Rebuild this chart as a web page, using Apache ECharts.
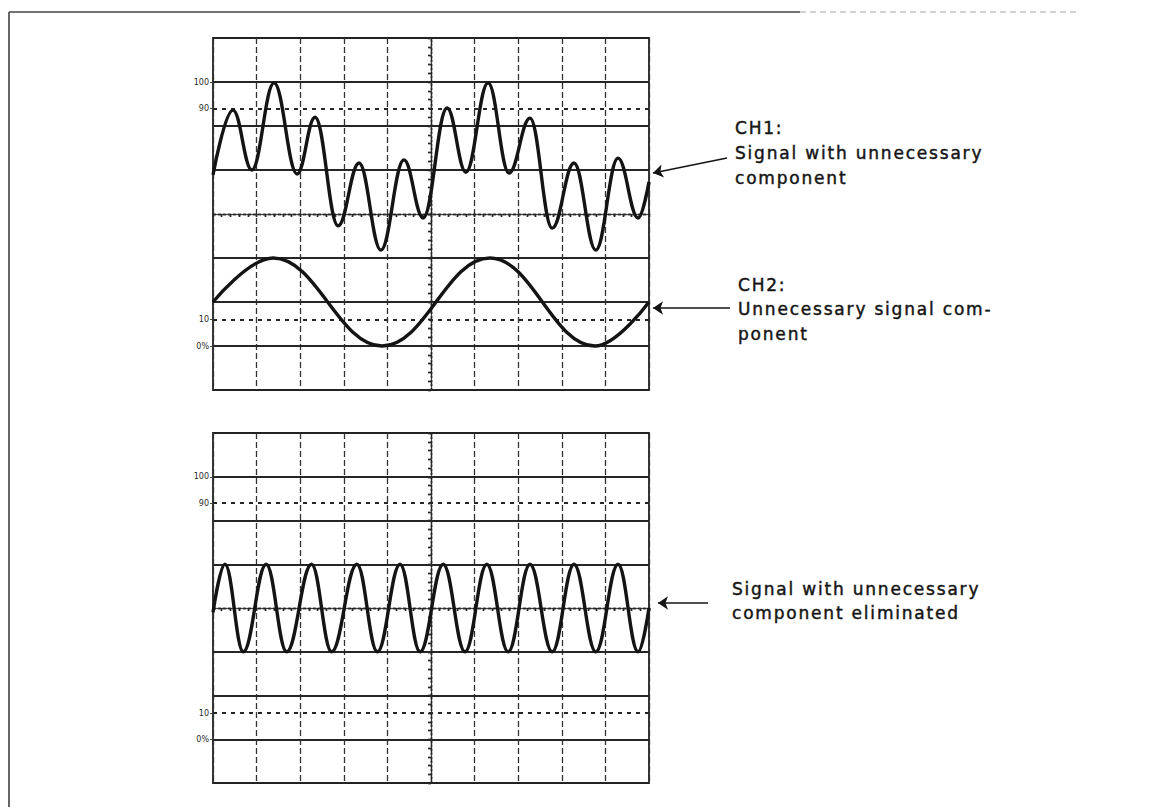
<!DOCTYPE html>
<html>
<head>
<meta charset="utf-8">
<script src="https://cdn.jsdelivr.net/npm/echarts@6/dist/echarts.min.js"></script>
<style>
html,body{margin:0;padding:0;background:#fff;}
#chart{width:1151px;height:807px;}
#chart svg text[style*="17px"]{letter-spacing:1.8px;}
</style>
</head>
<body>
<div id="chart"></div>
<script>
// ---- Data (graticule divisions, centred: x -5..5, y -4..4) ----
const ch1Signal = [
  [-5, 0.89], [-4.54, 2.36], [-4.11, 1.00], [-3.60, 2.98], [-3.07, 0.91],
  [-2.66, 2.20], [-2.13, -0.27], [-1.65, 1.16], [-1.15, -0.82], [-0.62, 1.23],
  [-0.18, -0.09], [0.37, 2.41], [0.80, 0.95], [1.31, 2.98], [1.79, 0.93],
  [2.27, 2.18], [2.78, -0.32], [3.28, 1.16], [3.78, -0.82], [4.29, 1.27],
  [4.75, -0.09], [5, 0.73]
];
const ch2Component = [
  [-5, -2.0], [-3.62, -1.0], [-1.12, -3.0], [1.35, -1.0], [3.76, -3.0], [5, -2.0]
];
const resultSignal = [
  [-5, -0.1], [-4.725, 1.0], [-4.305, -1.0], [-3.78, 1.0], [-3.31, -1.0],
  [-2.74, 1.0], [-2.28, -1.0], [-1.70, 1.0], [-1.23, -1.0], [-0.71, 1.0],
  [-0.25, -1.0], [0.28, 1.0], [0.78, -1.0], [1.28, 1.0], [1.77, -1.0],
  [2.27, 1.0], [2.78, -1.0], [3.28, 1.0], [3.78, -1.0], [4.29, 1.0],
  [4.75, -1.0], [5, 0.0]
];
const solidLevels = [-3, -2, -1, 1, 2, 3];
const dashedLevels = [-2.4, 2.4];
const levelTicks = [3, 2.4, -2.4, -3];
const levelLabels = ['100', '90', '10', '0%'];

const ink = '#141414';
const gridInk = '#262626';

const chart = echarts.init(document.getElementById('chart'), null, {renderer: 'svg', width: 1151, height: 807});

const xAxes = [], yAxes = [];
[0, 1].forEach(function (g) {
  const tickStyle = {color: gridInk, width: 1.4};
  xAxes.push({
    type: 'value', gridIndex: g, min: -5, max: 5, interval: 1,
    axisLine: {show: true, onZero: true, lineStyle: {color: gridInk, width: 1.4, type: [3, 2]}},
    axisTick: {show: true, inside: false, length: 3, lineStyle: tickStyle},
    minorTick: {show: true, splitNumber: 5, length: 3, lineStyle: tickStyle},
    axisLabel: {show: false},
    splitLine: {show: true, lineStyle: {color: '#333', width: 1.3, type: [6, 3]}}
  });
  xAxes.push({
    type: 'value', gridIndex: g, min: -5, max: 5, interval: 1,
    axisLine: {show: true, onZero: true, onZeroAxisIndex: 3 * g, lineStyle: {color: gridInk, width: 1.4, type: [3, 2]}},
    axisTick: {show: true, inside: true, length: 3, lineStyle: tickStyle},
    minorTick: {show: true, splitNumber: 5, length: 3, lineStyle: tickStyle},
    axisLabel: {show: false},
    splitLine: {show: false}
  });
  yAxes.push({
    type: 'value', gridIndex: g, min: -4, max: 4, interval: 1,
    axisLine: {show: true, onZero: true, lineStyle: {color: gridInk, width: 1.4, type: [2, 2]}},
    axisTick: {show: true, inside: false, length: 3, lineStyle: tickStyle},
    minorTick: {show: true, splitNumber: 5, length: 3, lineStyle: tickStyle},
    axisLabel: {show: false},
    splitLine: {show: false}
  });
  yAxes.push({
    type: 'value', gridIndex: g, min: -4, max: 4, interval: 1,
    axisLine: {show: true, onZero: true, onZeroAxisIndex: 2 * g, lineStyle: {color: gridInk, width: 1.4, type: [2, 2]}},
    axisTick: {show: true, inside: true, length: 3, lineStyle: tickStyle},
    minorTick: {show: true, splitNumber: 5, length: 3, lineStyle: tickStyle},
    axisLabel: {show: false},
    splitLine: {show: false}
  });
  yAxes.push({
    type: 'value', gridIndex: g, min: -4, max: 4, position: 'left',
    axisLine: {show: false, onZero: false},
    axisTick: {show: true, inside: false, length: 3, customValues: levelTicks, lineStyle: {color: '#444', width: 1}},
    axisLabel: {
      show: true, customValues: levelTicks, margin: 4,
      fontSize: 8, fontFamily: 'DejaVu Sans', color: '#2a2a2a',
      formatter: function (v) {
        const i = levelTicks.findIndex(function (l) { return Math.abs(l - v) < 1e-6; });
        return i >= 0 ? levelLabels[i] : '';
      }
    },
    splitLine: {show: false}
  });
});

function levelMarkLine() {
  const data = solidLevels.map(function (v) {
    return {yAxis: v, lineStyle: {color: gridInk, width: 1.8, type: 'solid'}};
  }).concat(dashedLevels.map(function (v) {
    return {yAxis: v, lineStyle: {color: gridInk, width: 1.8, type: [4, 5]}};
  }));
  return {
    silent: true, symbol: 'none', animation: false, label: {show: false},
    emphasis: {disabled: true}, data: data
  };
}

const arrowMarkCommon = {
  silent: true, animation: false, label: {show: false}, emphasis: {disabled: true},
  symbol: ['arrow', 'none'], symbolSize: [10, 10],
  lineStyle: {color: ink, width: 1.6, type: 'solid'}
};

const textStyle = function (t) {
  return {
    text: t, fontSize: 17, fontFamily: 'DejaVu Sans', fill: '#151515',
    stroke: '#151515', lineWidth: 0.45,
    verticalAlign: 'middle', align: 'left'
  };
};
const notes = [
  ['CH1:', 735, 128], ['Signal with unnecessary', 735, 153], ['component', 735, 178],
  ['CH2:', 738, 285], ['Unnecessary signal com-', 738, 309], ['ponent', 738, 334],
  ['Signal with unnecessary', 732, 589], ['component eliminated', 732, 613]
];

const option = {
  backgroundColor: '#ffffff',
  animation: false,
  grid: [
    {left: 213, top: 38, width: 436, height: 352, show: true, borderColor: '#222', borderWidth: 1.8, backgroundColor: 'transparent', outerBoundsMode: 'none', containLabel: false},
    {left: 213, top: 433, width: 436, height: 350, show: true, borderColor: '#222', borderWidth: 1.8, backgroundColor: 'transparent', outerBoundsMode: 'none', containLabel: false}
  ],
  xAxis: xAxes,
  yAxis: yAxes,
  graphic: [
    {type: 'line', silent: true, shape: {x1: 9, y1: 12, x2: 9, y2: 807}, style: {stroke: '#333', lineWidth: 1.5}},
    {type: 'line', silent: true, shape: {x1: 9, y1: 12, x2: 800, y2: 12}, style: {stroke: '#444', lineWidth: 1.5}},
    {type: 'line', silent: true, shape: {x1: 800, y1: 12, x2: 1080, y2: 12}, style: {stroke: '#aaa', lineWidth: 1.2, lineDash: [6, 4]}}
  ].concat(notes.map(function (n) {
    return {type: 'text', silent: true, x: n[1], y: n[2], style: textStyle(n[0])};
  })),
  series: [
    {
      name: 'CH1', type: 'line', xAxisIndex: 0, yAxisIndex: 0, data: ch1Signal,
      smooth: 0.4, smoothMonotone: 'x', symbol: 'none', showSymbol: false, z: 5,
      lineStyle: {color: ink, width: 3.4}, markLine: levelMarkLine()
    },
    {
      name: 'CH2', type: 'line', xAxisIndex: 0, yAxisIndex: 0, data: ch2Component,
      smooth: 0.4, smoothMonotone: 'x', symbol: 'none', showSymbol: false, z: 5,
      lineStyle: {color: ink, width: 3.4},
      markLine: Object.assign({}, arrowMarkCommon, {
        data: [
          [{x: 653, y: 173}, {x: 727, y: 158}],
          [{x: 653, y: 308}, {x: 730, y: 308}]
        ]
      })
    },
    {
      name: 'CH1 - CH2', type: 'line', xAxisIndex: 2, yAxisIndex: 3, data: resultSignal,
      smooth: 0.4, smoothMonotone: 'x', symbol: 'none', showSymbol: false, z: 5,
      lineStyle: {color: ink, width: 3.4}, markLine: levelMarkLine()
    },
    {
      name: 'arrow', type: 'line', xAxisIndex: 2, yAxisIndex: 3, data: [],
      markLine: Object.assign({}, arrowMarkCommon, {
        data: [[{x: 658, y: 603}, {x: 708, y: 603}]]
      })
    }
  ]
};
chart.setOption(option);
</script>
</body>
</html>
